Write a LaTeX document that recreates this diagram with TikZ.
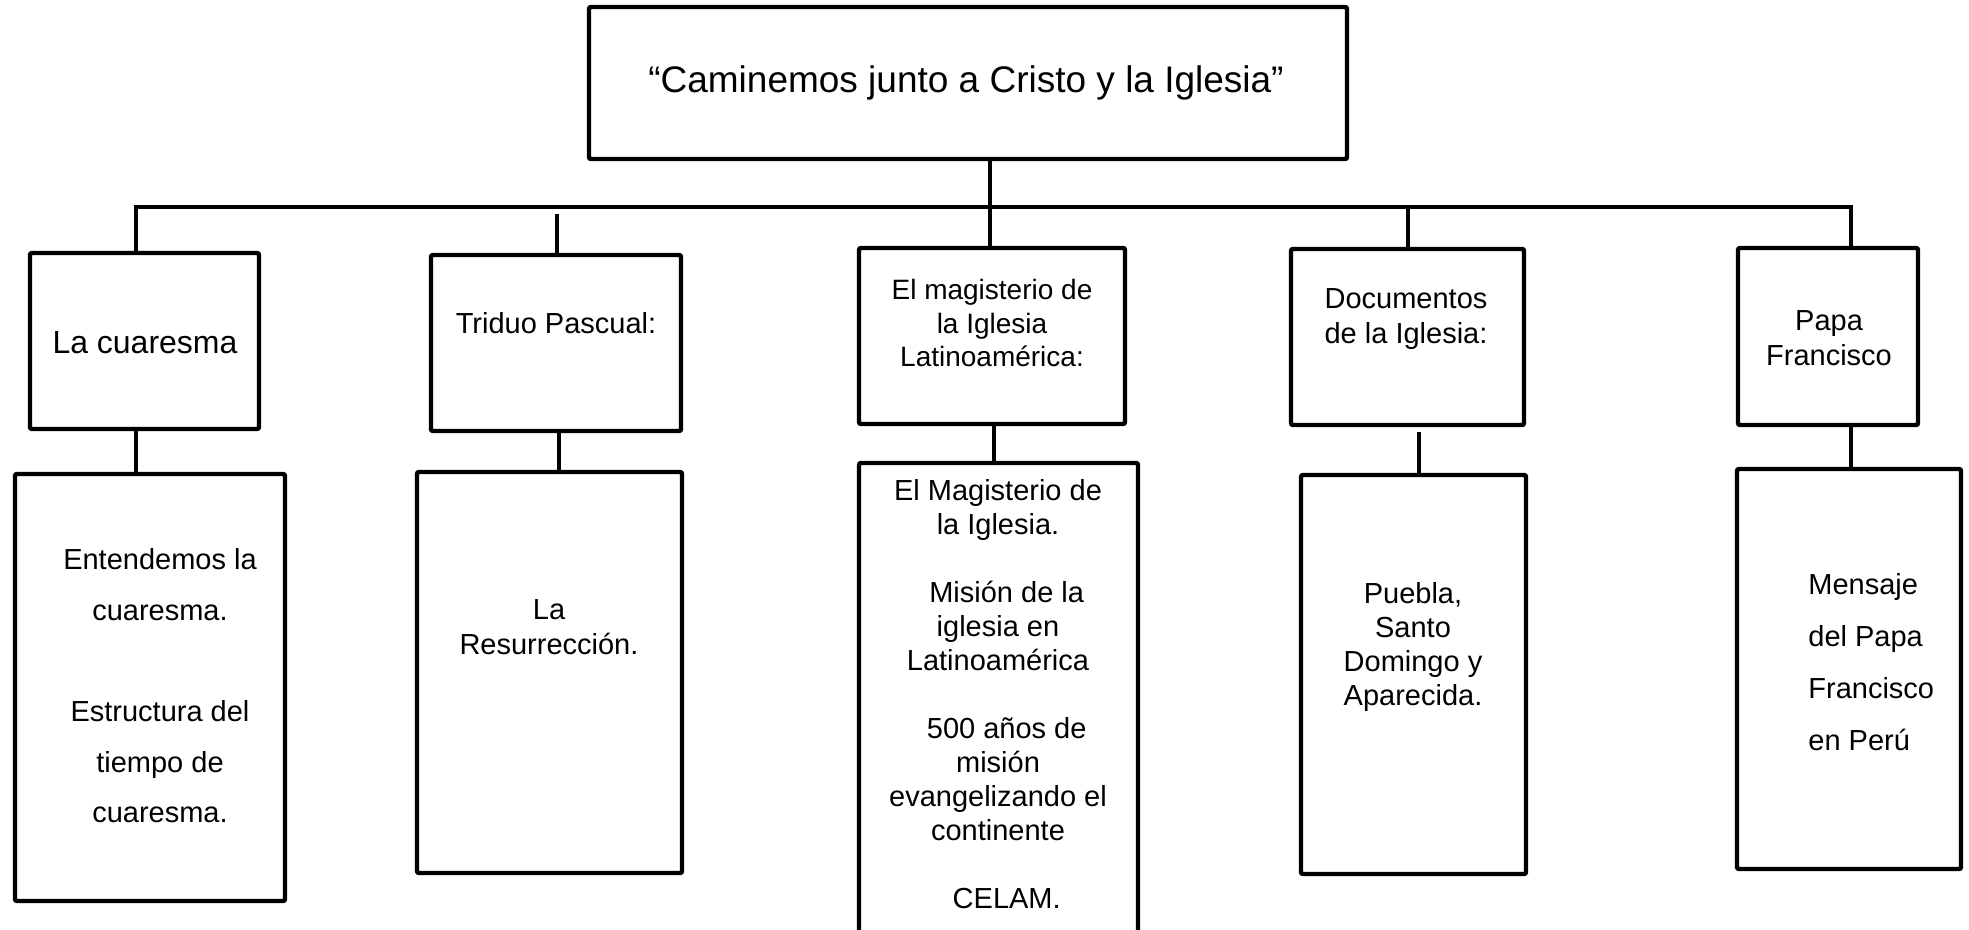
\documentclass[tikz,border=0pt]{standalone}
\usepackage{fontspec}
\setmainfont{Liberation Sans}
\usetikzlibrary{fit}
\begin{document}
\begin{tikzpicture}[x=0.5pt,y=-0.5pt,
  box/.style={draw=black,line width=2.2pt,inner sep=0pt,fill=white,rounded corners=1pt},
  link/.style={line width=2.2pt},
  bar/.style={line width=2.2pt},
  txt/.style={align=center,inner sep=0pt,font=\fontsize{14.5}{17}\selectfont}]
\useasboundingbox (0,0) rectangle (1969,930);
% boxes
\node[box,fit={(589,7) (1347,159)}] (top) {};
\node[box,fit={(30,253) (259,429)}] (b1) {};
\node[box,fit={(431,255) (681,431)}] (b2) {};
\node[box,fit={(859,248) (1125,424)}] (b3) {};
\node[box,fit={(1291,249) (1524,425)}] (b4) {};
\node[box,fit={(1738,248) (1918,425)}] (b5) {};
\node[box,fit={(15,474) (285,901)}] (c1) {};
\node[box,fit={(417,472) (682,873)}] (c2) {};
\node[box,fit={(859,463) (1138,936)}] (c3) {};
\node[box,fit={(1301,475) (1526,874)}] (c4) {};
\node[box,fit={(1737,469) (1961,869)}] (c5) {};
% bar and junctions
\coordinate (j1) at (136,207);
\coordinate (j2) at (557,207);
\coordinate (j3) at (990,207);
\coordinate (j4) at (1408,207);
\coordinate (j5) at (1851,207);
\draw[link] (top.south -| j3) -- (j3);
\draw[bar,line cap=rect] (j1) -- (j5);
\draw[link] (j1) -- (j1 |- b1.north);
\draw[link] ([yshift=-3.5pt]j2) -- (j2 |- b2.north);
\draw[link] (j3) -- (j3 |- b3.north);
\draw[link] (j4) -- (j4 |- b4.north);
\draw[link] (j5) -- (j5 |- b5.north);
% lower links
\coordinate (k1) at (136,0);
\coordinate (k2) at (559,0);
\coordinate (k3) at (994,0);
\coordinate (k4) at (1419,0);
\coordinate (k5) at (1851,0);
\draw[link] (k1 |- b1.south) -- (k1 |- c1.north);
\draw[link] (k2 |- b2.south) -- (k2 |- c2.north);
\draw[link] (k3 |- b3.south) -- (k3 |- c3.north);
\draw[link] ([yshift=-2.5pt]k4 |- b4.south) -- (k4 |- c4.north);
\draw[link] (k5 |- b5.south) -- (k5 |- c5.north);
% texts
\node[txt,font=\fontsize{18.5}{22}\selectfont] (ttop) at (966,83) {“Caminemos junto a Cristo y la Iglesia”};
\node[txt,font=\fontsize{16}{19}\selectfont] (t1) at (145,343) {La cuaresma};
\node[txt] (t2) at (556,323) {Triduo Pascual:};
\node[txt,font=\fontsize{14}{16.75}\selectfont] (t3) at (992,323) {El magisterio de\\la Iglesia\\Latinoamérica:};
\node[txt,font=\fontsize{14.5}{17.5}\selectfont] (t4) at (1406,319) {Documentos\\de la Iglesia:};
\node[txt,font=\fontsize{14.5}{17.5}\selectfont] (t5) at (1829,338) {Papa\\Francisco};
\node[txt,font=\fontsize{14.5}{25.3}\selectfont] (u1) at (160,686) {Entendemos la\\cuaresma.\\[25.3pt]Estructura del\\tiempo de\\cuaresma.};
\node[txt,font=\fontsize{14.5}{17.5}\selectfont] (u2) at (549,627) {La\\Resurrección.};
\node[txt] (u3) at (998,694) {El Magisterio de\\la Iglesia.\\[17pt]\hspace*{0.6em}Misión de la\\iglesia en\\Latinoamérica\\[17pt]\hspace*{0.6em}500 años de\\misión\\evangelizando el\\continente\\[17pt]\hspace*{0.6em}CELAM.};
\node[txt] (u4) at (1413,647) {Puebla,\\Santo\\Domingo y\\Aparecida.};
\node[txt,align=left,anchor=west,font=\fontsize{14.5}{26}\selectfont] (u5) at (1808,662) {Mensaje\\del Papa\\Francisco\\en Perú};
\end{tikzpicture}
\end{document}
